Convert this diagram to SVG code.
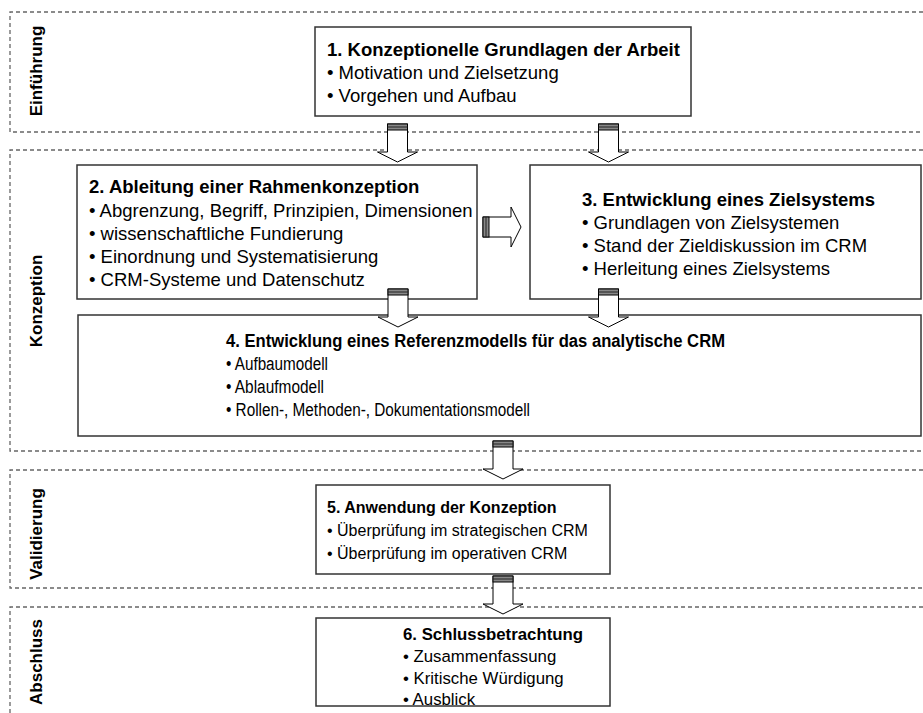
<svg xmlns="http://www.w3.org/2000/svg" xmlns:xlink="http://www.w3.org/1999/xlink" width="923" height="713" viewBox="0 0 923 713">
  <style>
    .frame { fill: none; stroke: #666; stroke-width: 1.3; stroke-dasharray: 4 3; }
    .phase { font-family: "Liberation Sans", Arial, sans-serif; font-weight: bold; font-size: 17px; fill: #000; text-anchor: middle; }
    .box { fill: #fff; stroke: #333; stroke-width: 1.5; }
    text { font-family: "Liberation Sans", Arial, sans-serif; fill: #000; }
    .title { font-weight: bold; }
    .lg { font-size: 18.5px; }
    .md { font-size: 18px; }
    .sm { font-size: 16px; }
    .sm6 { font-size: 16.8px; }
  </style>
  <defs>
    <!-- block arrow pointing down, origin at the middle of its striped tail -->
    <g id="blockArrow">
      <polygon points="-10,0 10,0 10,28 20,28 0,38 -20,28 -10,28" fill="#fff" stroke="#000" stroke-width="1"/>
      <rect x="-10" y="0" width="20" height="6" fill="#888" stroke="#000" stroke-width="1"/>
      <line x1="-10" y1="3" x2="10" y2="3" stroke="#222" stroke-width="1"/>
    </g>
  </defs>

  <rect width="923" height="713" fill="#fff"/>

  <!-- phase frames -->
  <g id="phases">
    <path class="frame" d="M930,12 H10 V132 H930"/>
    <path class="frame" d="M930,150 H10 V451 H930"/>
    <path class="frame" d="M930,470 H10 V588 H930"/>
    <path class="frame" d="M930,607 H10 V720"/>
    <text class="phase" transform="translate(42,71) rotate(-90)">Einführung</text>
    <text class="phase" transform="translate(42,301) rotate(-90)">Konzeption</text>
    <text class="phase" transform="translate(42,534) rotate(-90)">Validierung</text>
    <text class="phase" transform="translate(42,662) rotate(-90)">Abschluss</text>
  </g>

  <!-- chapter boxes -->
  <g id="node1" class="lg">
    <rect class="box" x="315" y="27" width="376" height="89"/>
    <text class="title" x="327" y="56">1. Konzeptionelle Grundlagen der Arbeit</text>
    <text x="327" y="79">• Motivation und Zielsetzung</text>
    <text x="327" y="102">• Vorgehen und Aufbau</text>
  </g>

  <g id="node2" class="lg">
    <rect class="box" x="77" y="165" width="400" height="134"/>
    <text class="title" x="89" y="193">2. Ableitung einer Rahmenkonzeption</text>
    <text x="89" y="217">• Abgrenzung, Begriff, Prinzipien, Dimensionen</text>
    <text x="89" y="240">• wissenschaftliche Fundierung</text>
    <text x="89" y="263">• Einordnung und Systematisierung</text>
    <text x="89" y="286">• CRM-Systeme und Datenschutz</text>
  </g>

  <g id="node3" class="lg">
    <rect class="box" x="530" y="165" width="391" height="134"/>
    <text class="title" x="582" y="206">3. Entwicklung eines Zielsystems</text>
    <text x="582" y="229">• Grundlagen von Zielsystemen</text>
    <text x="582" y="252">• Stand der Zieldiskussion im CRM</text>
    <text x="582" y="275">• Herleitung eines Zielsystems</text>
  </g>

  <g id="node4" class="md">
    <rect class="box" x="78" y="315" width="843" height="121"/>
    <text class="title" x="226" y="347" textLength="499" lengthAdjust="spacingAndGlyphs">4. Entwicklung eines Referenzmodells für das analytische CRM</text>
    <text x="226" y="370" textLength="102" lengthAdjust="spacingAndGlyphs">• Aufbaumodell</text>
    <text x="226" y="393" textLength="98" lengthAdjust="spacingAndGlyphs">• Ablaufmodell</text>
    <text x="226" y="416" textLength="304" lengthAdjust="spacingAndGlyphs">• Rollen-, Methoden-, Dokumentationsmodell</text>
  </g>

  <g id="node5" class="sm">
    <rect class="box" x="316" y="485" width="294" height="89"/>
    <text class="title" x="327" y="513">5. Anwendung der Konzeption</text>
    <text x="327" y="536">• Überprüfung im strategischen CRM</text>
    <text x="327" y="559">• Überprüfung im operativen CRM</text>
  </g>

  <g id="node6" class="sm6">
    <rect class="box" x="316" y="618" width="294" height="88"/>
    <text class="title" x="403" y="640">6. Schlussbetrachtung</text>
    <text x="403" y="662">• Zusammenfassung</text>
    <text x="403" y="684">• Kritische Würdigung</text>
    <text x="403" y="705">• Ausblick</text>
  </g>

  <!-- connectors -->
  <g id="connectors">
    <use xlink:href="#blockArrow" transform="translate(397.5,124)"/>
    <use xlink:href="#blockArrow" transform="translate(608.5,124)"/>
    <use xlink:href="#blockArrow" transform="translate(483,227) rotate(-90)"/>
    <use xlink:href="#blockArrow" transform="translate(398,289)"/>
    <use xlink:href="#blockArrow" transform="translate(608.5,289)"/>
    <use xlink:href="#blockArrow" transform="translate(503,441)"/>
    <use xlink:href="#blockArrow" transform="translate(503,576)"/>
  </g>
</svg>
